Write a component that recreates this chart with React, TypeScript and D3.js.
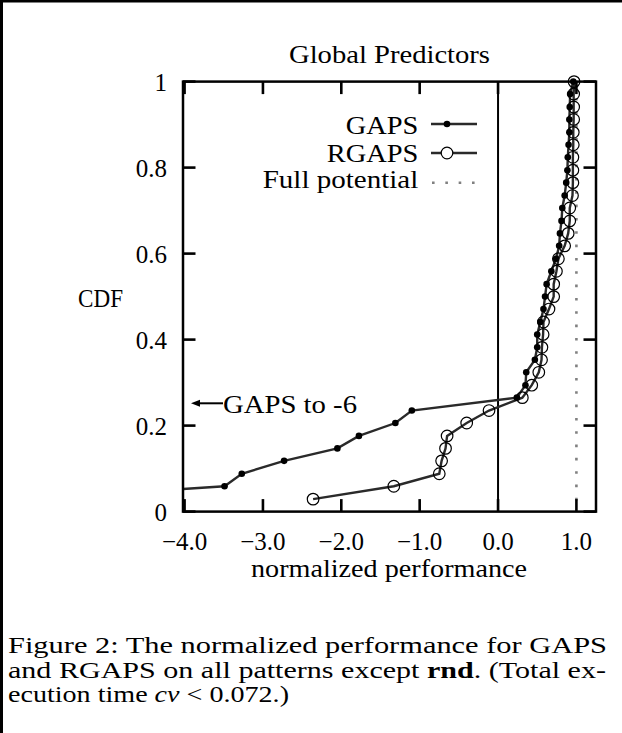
import React from "react";
import * as d3 from "d3";

// ---- data ----
const cdfLevels = [
  0.029, 0.059, 0.088, 0.118, 0.147, 0.176, 0.206, 0.235, 0.265, 0.294,
  0.324, 0.353, 0.382, 0.412, 0.441, 0.471, 0.5, 0.529, 0.559, 0.588,
  0.618, 0.647, 0.676, 0.706, 0.735, 0.765, 0.794, 0.824, 0.853, 0.882,
  0.912, 0.941, 0.971, 1.0,
];
const gapsValues = [
  -6.0, -3.49, -3.27, -2.73, -2.05, -1.775, -1.31, -1.1, 0.24, 0.35,
  0.36, 0.47, 0.5, 0.5, 0.54, 0.58, 0.6, 0.62, 0.68, 0.74,
  0.78, 0.79, 0.81, 0.82, 0.85, 0.87, 0.885, 0.89, 0.9, 0.91,
  0.91, 0.915, 0.92, 0.96,
];
const rgapsValues = [
  -2.36, -1.33, -0.75, -0.72, -0.67, -0.65, -0.4, -0.115, 0.31, 0.43,
  0.52, 0.555, 0.56, 0.575, 0.58, 0.65, 0.71, 0.71, 0.745, 0.77,
  0.85, 0.895, 0.915, 0.915, 0.95, 0.955, 0.955, 0.955, 0.96, 0.96,
  0.965, 0.965, 0.965, 0.97,
];
const fullPotentialX = 1.0;
const fullPotentialY = [0, 1];
const xTicks = [-4, -3, -2, -1, 0, 1];
const xTickLabels = ["\u22124.0", "\u22123.0", "\u22122.0", "\u22121.0", "0.0", "1.0"];
const yTicks = [0, 0.2, 0.4, 0.6, 0.8, 1];
const yTickLabels = ["0", "0.2", "0.4", "0.6", "0.8", "1"];
const xDomain = [-4.02, 1.25];
const yDomain = [0, 1];

const W = 622;
const H = 733;
const L = 183, R = 596, T = 81.6, B = 511.6;
const FONT = "Liberation Serif, Times New Roman, Times, serif";

export default function App() {
  const x = d3.scaleLinear().domain(xDomain).range([L, R]);
  const y = d3.scaleLinear().domain(yDomain).range([B, T]);

  const gaps = gapsValues.map((v, i) => [v, cdfLevels[i]] as [number, number]);
  const rgaps = rgapsValues.map((v, i) => [v, cdfLevels[i]] as [number, number]);
  const line = d3
    .line<[number, number]>()
    .x((d) => x(d[0]))
    .y((d) => y(d[1]));
  const inDomain = (d: [number, number]) => d[0] >= xDomain[0] && d[0] <= xDomain[1];

  const lineColor = "#2a2a2a";
  const tickLen = 12.5;

  return (
    <svg
      width={W}
      height={H}
      viewBox={`0 0 ${W} ${H}`}
      style={{ position: "absolute", left: 0, top: 0, background: "#fff", fontFamily: FONT }}
    >
      <rect x={0} y={0} width={W} height={H} fill="#fff" />
      {/* page borders */}
      <line x1={0} y1={1.3} x2={W} y2={1.3} stroke="#000" strokeWidth={2.6} />
      <line x1={1.5} y1={0} x2={1.5} y2={H} stroke="#000" strokeWidth={3} />

      <defs>
        <clipPath id="plotclip">
          <rect x={L} y={T - 2} width={R - L} height={B - T + 4} />
        </clipPath>
      </defs>

      {/* title */}
      <text x={389.5} y={63} fontSize={25} textAnchor="middle" textLength={201} lengthAdjust="spacingAndGlyphs">
        Global Predictors
      </text>

      {/* zero line */}
      <line x1={x(0)} x2={x(0)} y1={T} y2={B} stroke="#000" strokeWidth={2} />

      {/* full potential dotted line */}
      <line
        x1={x(fullPotentialX)}
        x2={x(fullPotentialX)}
        y1={y(fullPotentialY[1])}
        y2={y(fullPotentialY[0])}
        stroke="#808080"
        strokeWidth={2.6}
        strokeDasharray="2.6 10.73"
        strokeDashoffset={10.3}
      />

      {/* series lines */}
      <g clipPath="url(#plotclip)">
        <path d={line(gaps) || ""} fill="none" stroke={lineColor} strokeWidth={2.4} />
        <path d={line(rgaps) || ""} fill="none" stroke={lineColor} strokeWidth={2.4} />
      </g>
      {gaps.filter(inDomain).map((d, i) => (
        <circle key={"g" + i} cx={x(d[0])} cy={y(d[1])} r={3.3} fill="#000" />
      ))}
      {rgaps.filter(inDomain).map((d, i) => (
        <circle key={"r" + i} cx={x(d[0])} cy={y(d[1])} r={5.8} fill="none" stroke="#000" strokeWidth={1.2} />
      ))}

      {/* frame */}
      <rect x={L} y={T} width={R - L} height={B - T} fill="none" stroke="#000" strokeWidth={2.5} />
      {/* ticks */}
      {xTicks.map((t) => (
        <g key={"xt" + t}>
          <line x1={x(t)} x2={x(t)} y1={B} y2={B - tickLen} stroke="#000" strokeWidth={2.6} />
          <line x1={x(t)} x2={x(t)} y1={T} y2={T + tickLen} stroke="#000" strokeWidth={2.6} />
        </g>
      ))}
      {yTicks.map((t) => (
        <g key={"yt" + t}>
          <line x1={L} x2={L + tickLen} y1={y(t)} y2={y(t)} stroke="#000" strokeWidth={2.6} />
          <line x1={R} x2={R - tickLen} y1={y(t)} y2={y(t)} stroke="#000" strokeWidth={2.6} />
        </g>
      ))}

      {/* tick labels */}
      {yTicks.map((t, i) => (
        <text key={"yl" + t} x={167} y={y(t) + 9} fontSize={25} textAnchor="end">
          {yTickLabels[i]}
        </text>
      ))}
      {xTicks.map((t, i) => (
        <text key={"xl" + t} x={x(t)} y={550} fontSize={25} textAnchor="middle">
          {xTickLabels[i]}
        </text>
      ))}

      {/* axis titles */}
      <text x={389} y={577} fontSize={25} textAnchor="middle" textLength={276} lengthAdjust="spacingAndGlyphs">
        normalized performance
      </text>
      <text x={78} y={307} fontSize={25} textLength={45} lengthAdjust="spacingAndGlyphs">
        CDF
      </text>

      {/* legend */}
      <text x={418.3} y={134} fontSize={25} textAnchor="end" textLength={72.6} lengthAdjust="spacingAndGlyphs">
        GAPS
      </text>
      <line x1={431} x2={477} y1={124} y2={124} stroke={lineColor} strokeWidth={2.4} />
      <circle cx={447} cy={124} r={3.3} fill="#000" />
      <text x={418.3} y={161.7} fontSize={25} textAnchor="end" textLength={91.6} lengthAdjust="spacingAndGlyphs">
        RGAPS
      </text>
      <line x1={431} x2={477} y1={153} y2={153} stroke={lineColor} strokeWidth={2.4} />
      <circle cx={447} cy={153} r={5.8} fill="#fff" stroke="#000" strokeWidth={1.2} />
      <text x={418.3} y={188.3} fontSize={25} textAnchor="end" textLength={155.6} lengthAdjust="spacingAndGlyphs">
        Full potential
      </text>
      <line x1={432} x2={478} y1={182.7} y2={182.7} stroke="#808080" strokeWidth={2.6} strokeDasharray="2.6 10.73" />

      {/* annotation */}
      <line x1={198} x2={223} y1={403.3} y2={403.3} stroke="#000" strokeWidth={2} />
      <path d="M191,403.3 L200,399.8 L200,406.8 Z" fill="#000" />
      <text x={223} y={413} fontSize={25} textLength={134} lengthAdjust="spacingAndGlyphs">
        GAPS to -6
      </text>

      {/* caption */}
      <text x={8} y={653} fontSize={24} textLength={599} lengthAdjust="spacingAndGlyphs">
        Figure 2:  The normalized performance for GAPS
      </text>
      <text x={8} y={678} fontSize={24} textLength={598} lengthAdjust="spacingAndGlyphs">
        and RGAPS on all patterns except <tspan fontWeight="bold">rnd</tspan>. (Total ex-
      </text>
      <text x={8} y={702} fontSize={24} textLength={281} lengthAdjust="spacingAndGlyphs">
        ecution time <tspan fontStyle="italic">cv</tspan> &lt; 0.072.)
      </text>
    </svg>
  );
}
